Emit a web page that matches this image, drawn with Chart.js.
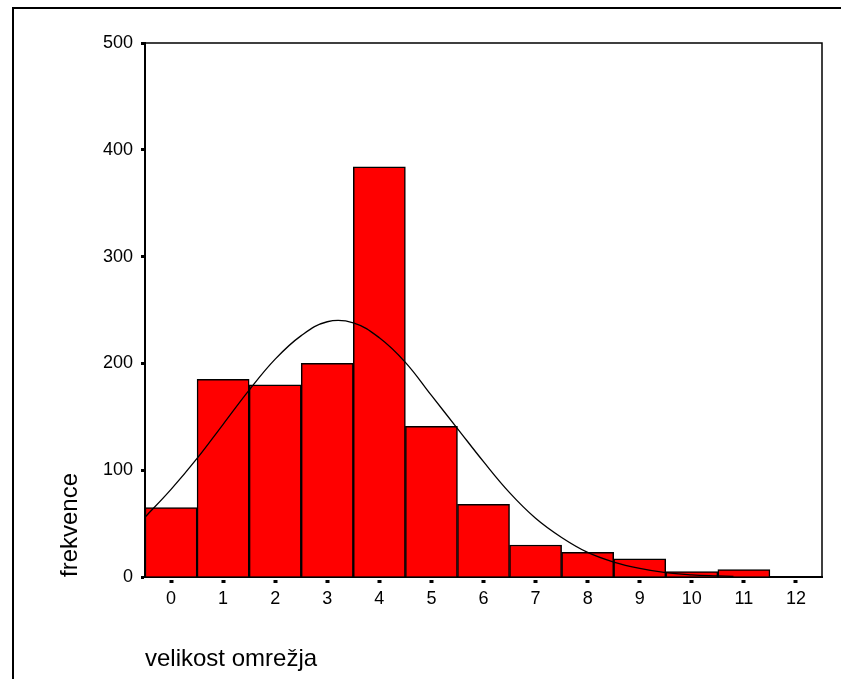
<!DOCTYPE html>
<html>
<head>
<meta charset="utf-8">
<script src="https://cdn.jsdelivr.net/npm/chart.js@4"></script>
<style>
  html, body { margin: 0; padding: 0; background: #fff; }
  #wrap { position: relative; width: 841px; height: 679px; overflow: hidden; }
  #frame { position: absolute; left: 12px; top: 7px; width: 900px; height: 800px; border-left: 2px solid #000; border-top: 2px solid #000; }
  #box { position: absolute; left: 0; top: 0; width: 841px; height: 679px; }
</style>
</head>
<body>
<div id="wrap">
  <div id="frame"></div>
  <div id="box"><canvas id="c"></canvas></div>
</div>
<script>
const categories = ['0','1','2','3','4','5','6','7','8','9','10','11','12'];
const frequencies = [65, 185, 180, 200, 384, 141, 68, 30, 23, 17, 5, 7, 0];
const curveX = [-0.5, 0, 0.5, 1, 1.5, 2, 2.5, 3, 3.5, 4, 4.5, 5, 5.5, 6, 6.5, 7, 7.5, 8, 8.5, 9, 9.5, 10, 10.5, 10.8];
const curveY = [56, 82, 111, 143, 175, 204, 226, 239, 238, 224, 201, 170, 139, 108, 79, 55, 37, 23, 14, 8, 4, 2, 1, 0.5];
const yTicks = [0, 100, 200, 300, 400, 500];
const xTitle = 'velikost omrežja';
const yTitle = 'frekvence';

const FONT = '"Liberation Sans", Arial, sans-serif';

const framePlugin = {
  id: 'plotFrame',
  afterDatasetsDraw(chart) {
    const a = chart.chartArea, ctx = chart.ctx;
    ctx.save();
    ctx.strokeStyle = '#000';
    ctx.lineWidth = 1.5;
    ctx.beginPath();
    ctx.moveTo(a.left, a.top);
    ctx.lineTo(a.right, a.top);
    ctx.lineTo(a.right, a.bottom);
    ctx.stroke();
    ctx.restore();
  }
};

new Chart(document.getElementById('c'), {
  type: 'bar',
  data: {
    datasets: [
      {
        type: 'line',
        data: curveX.map((x, i) => ({ x: x, y: curveY[i] })),
        borderColor: '#000',
        borderWidth: 1.3,
        pointRadius: 0,
        tension: 0.4,
        fill: false,
        order: 0
      },
      {
        type: 'bar',
        data: categories.map((c, i) => ({ x: Number(c), y: frequencies[i] })),
        backgroundColor: '#ff0000',
        borderColor: '#000',
        borderWidth: 1.5,
        barPercentage: 1,
        categoryPercentage: 1,
        grouped: false,
        order: 1
      }
    ]
  },
  options: {
    responsive: true,
    maintainAspectRatio: false,
    animation: false,
    layout: { padding: { left: 0, top: 43, right: 19, bottom: 0 } },
    plugins: { legend: { display: false }, tooltip: { enabled: false } },
    scales: {
      x: {
        type: 'linear',
        min: -0.5,
        max: 12.5,
        offset: false,
        afterFit(s) { s.height = 102; },
        afterBuildTicks(s) { s.ticks = categories.map(c => ({ value: Number(c) })); },
        grid: { offset: false, drawOnChartArea: false, drawTicks: true, tickLength: 6, tickWidth: 4, tickColor: '#000', tickBorderDash: [0, 2, 3, 50] },
        border: { display: true, color: '#000', width: 2 },
        ticks: { color: '#000', font: { family: FONT, size: 18 }, padding: 5, maxRotation: 0, autoSkip: false,
                 callback: (v) => categories[categories.indexOf(String(v))] },
        title: { display: true, text: xTitle, align: 'start', color: '#000', font: { family: FONT, size: 24 }, padding: { top: 0, bottom: 5 } }
      },
      y: {
        type: 'linear',
        min: 0,
        max: 500,
        afterFit(s) { s.width = 145; },
        afterBuildTicks(s) { s.ticks = yTicks.map(v => ({ value: v })); },
        grid: { drawOnChartArea: false, drawTicks: true, tickLength: 4, tickWidth: 3, tickColor: '#000' },
        border: { display: true, color: '#000', width: 2 },
        ticks: { color: '#000', font: { family: FONT, size: 18 }, padding: 8 },
        title: { display: true, text: yTitle, align: 'start', color: '#000', font: { family: FONT, size: 24 }, padding: { top: 56, bottom: 0 } }
      }
    }
  },
  plugins: [framePlugin]
});
</script>
</body>
</html>
